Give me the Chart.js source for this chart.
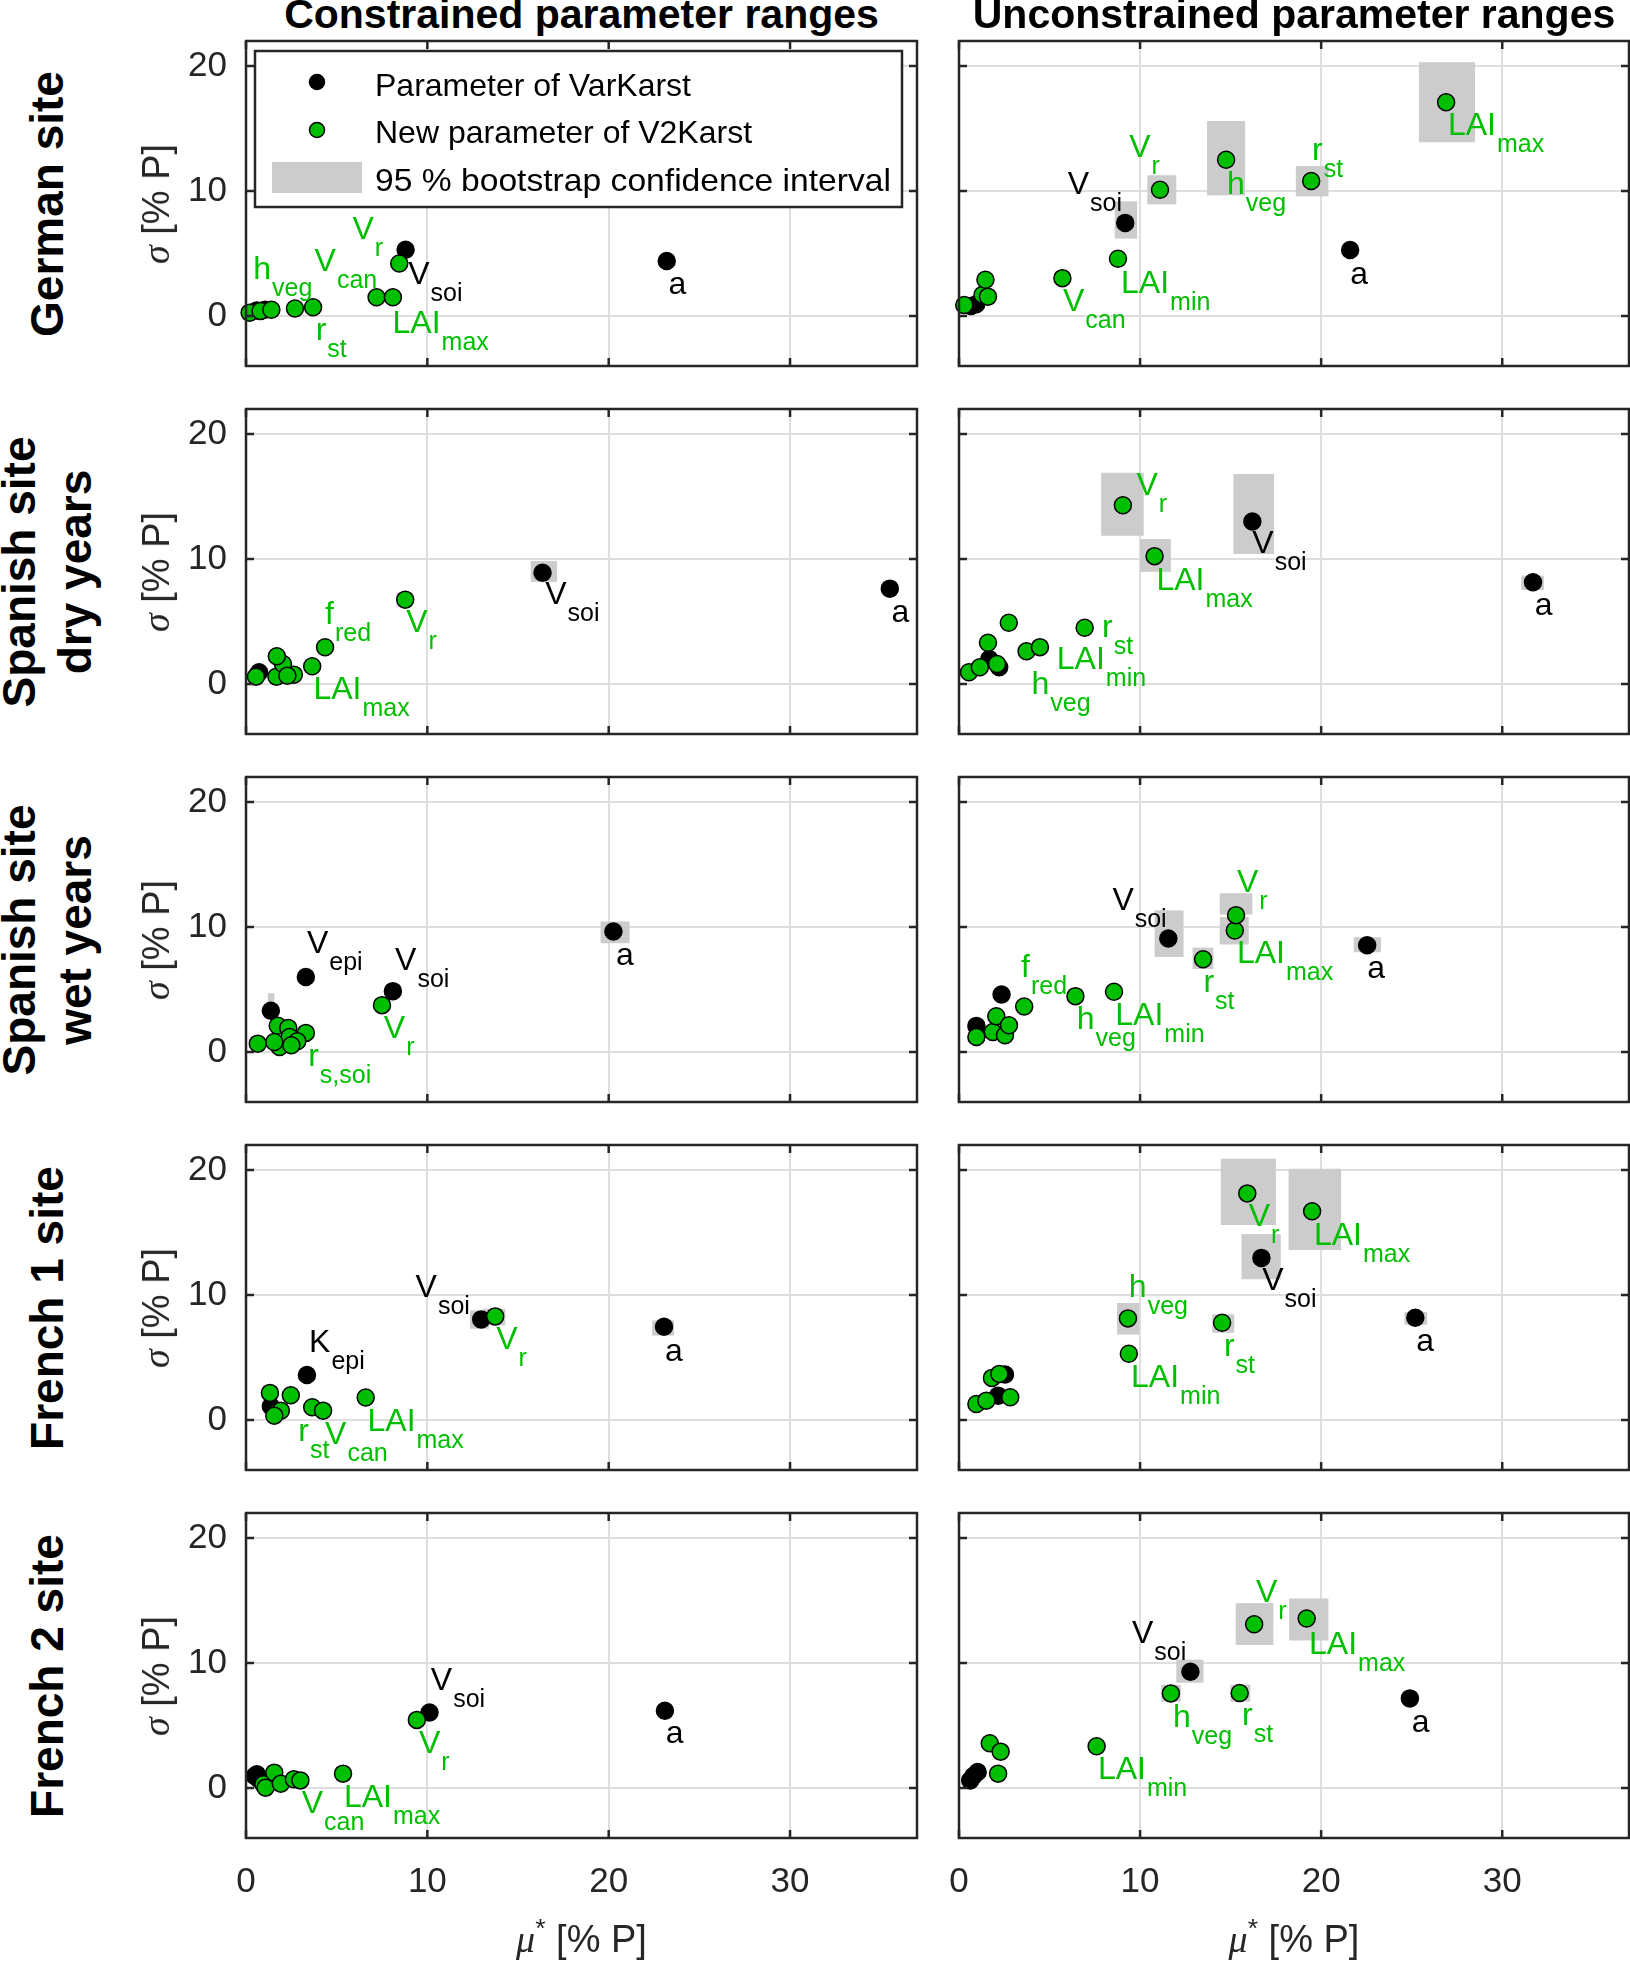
<!DOCTYPE html>
<html>
<head>
<meta charset="utf-8">
<script src="https://cdn.jsdelivr.net/npm/chart.js@4.4.1/dist/chart.umd.min.js"></script>
<style>
  body { margin:0; width:1630px; height:1963px; overflow:hidden; background:#fff; position:relative;
         font-family:"Liberation Sans", Arial, Helvetica, sans-serif; }
  canvas { position:absolute; }
  .t { position:absolute; white-space:nowrap; line-height:1; }
  .col { font-weight:bold; font-size:41px; color:#000; transform:translateX(-50%); }
  .row { font-weight:bold; font-size:46px; color:#000; text-align:center; line-height:56px;
         transform:translate(-50%,-50%) rotate(-90deg); }
  .yl { font-size:38px; color:#262626; transform:translate(-50%,-50%) rotate(-90deg); }
  .xl { font-size:38px; color:#262626; transform:translateX(-50%); }
  .gr { font-family:"Liberation Serif", "DejaVu Serif", serif; font-style:italic; }
  .sp { position:relative; top:-0.55em; font-size:0.7em; }
</style>
</head>
<body>
<script>
// axes
const xTicks = [0, 10, 20, 30];
const yTicks = [0, 10, 20];
const xRange = [0, 37];
const yRange = [-4, 22];

const colTitles = ['Constrained parameter ranges', 'Unconstrained parameter ranges'];
const rowTitles = ['German site', 'Spanish site\ndry years', 'Spanish site\nwet years', 'French 1 site', 'French 2 site'];
const legendLabels = ['Parameter of VarKarst', 'New parameter of V2Karst', '95 % bootstrap confidence interval'];

// points are [mu*, sigma]; boxes are [x1, x2, y1, y2]; labels are [text, subscript, colour, x, y]
const gerConVar = [[0.6,0.45],[1.05,0.5],[8.8,5.3],[23.2,4.4]];
const gerConNew = [[0.2,0.27],[0.8,0.4],[1.4,0.5],[2.7,0.6],[3.7,0.7],[7.2,1.5],[8.1,1.5],[8.45,4.2]];
const gerConBox = [];
const gerConTxt = [['h','veg','g',0.4,2.95],['V','can','g',3.78,3.62],['V','r','g',5.87,6.17],['V','soi','k',8.94,2.55],
                   ['LAI','max','g',8.08,-1.34],['r','st','g',3.84,-1.88],['a','','k',23.3,1.74]];

const gerUncVar = [[0.66,0.8],[0.95,0.94],[9.18,7.45],[21.6,5.28]];
const gerUncNew = [[0.29,0.88],[1.3,1.7],[1.6,1.55],[1.46,2.9],[5.71,3.03],[8.78,4.58],[11.1,10.1],[14.75,12.5],[19.45,10.8],[26.9,17.1]];
const gerUncBox = [[25.4,28.5,13.9,20.3],[13.7,15.8,9.65,15.6],[18.6,20.4,9.57,12.0],[10.4,12.0,8.93,11.26],[8.6,9.84,6.19,9.17]];
const gerUncTxt = [['LAI','max','g',27.0,14.5],['h','veg','g',14.8,9.8],['r','st','g',19.5,12.5],['V','r','g',9.4,12.7],
                   ['V','soi','k',6.0,9.8],['LAI','min','g',8.95,1.88],['V','can','g',5.74,0.4],['a','','k',21.6,2.55]];

const dryConVar = [[0.72,0.94],[2.1,1.02],[16.35,8.9],[35.5,7.63]];
const dryConNew = [[0.55,0.59],[1.68,0.59],[2.64,0.75],[2.04,1.6],[2.28,0.67],[1.7,2.22],[3.65,1.42],[4.36,2.94],[8.78,6.75]];
const dryConBox = [[15.7,17.15,8.17,9.83],[8.3,9.1,6.2,7.3]];
const dryConTxt = [['V','soi','k',16.5,6.37],['a','','k',35.6,4.95],['V','r','g',8.83,4.15],['f','red','g',4.36,4.77],
                   ['LAI','max','g',3.72,-1.2]];

const dryUncVar = [[1.67,2.0],[2.22,1.34],[16.2,13.0],[31.7,8.14]];
const dryUncNew = [[0.55,0.94],[1.15,1.34],[2.1,1.6],[1.6,3.3],[2.75,4.9],[3.73,2.62],[4.47,2.95],[6.94,4.5],[10.8,10.23],[9.05,14.3]];
const dryUncBox = [[7.85,10.2,11.86,16.9],[15.15,17.4,10.4,16.8],[10.0,11.7,8.97,11.6],[31.05,32.3,7.52,8.67]];
const dryUncTxt = [['V','r','g',9.8,15.1],['V','soi','k',16.2,10.45],['LAI','max','g',10.9,7.55],['a','','k',31.8,5.49],
                   ['r','st','g',7.9,3.8],['LAI','min','g',5.4,1.2],['h','veg','g',4.0,-0.8]];

const wetConVar = [[1.37,3.3],[3.3,6.0],[8.1,4.87],[20.26,9.64]];
const wetConNew = [[0.65,0.67],[1.75,2.1],[2.33,1.93],[3.3,1.53],[1.85,0.4],[2.4,1.2],[2.83,0.86],[1.56,0.8],[2.5,0.54],[7.5,3.75]];
const wetConBox = [[19.55,21.15,8.7,10.44],[1.2,1.56,3.0,4.7]];
const wetConTxt = [['V','epi','k',3.36,7.9],['V','soi','k',8.22,6.6],['a','','k',20.4,6.96],['V','r','g',7.6,1.12],
                   ['r','s,soi','g',3.43,-1.12]];

const wetUncVar = [[0.96,2.09],[2.35,4.6],[11.56,9.08],[22.54,8.54]];
const wetUncNew = [[0.96,1.2],[1.87,1.6],[2.54,1.34],[2.06,2.86],[2.76,2.14],[3.6,3.64],[6.43,4.47],[8.56,4.82],[13.48,7.42],[15.23,9.72],[15.3,10.95]];
const wetUncBox = [[10.8,12.4,7.6,11.33],[14.4,16.2,11.0,12.7],[14.4,16.0,8.6,10.8],[12.9,14.05,6.64,8.35],[21.8,23.3,7.98,9.18]];
const wetUncTxt = [['V','soi','k',8.47,11.38],['V','r','g',15.35,12.8],['LAI','max','g',15.35,7.1],['r','st','g',13.5,4.77],
                   ['a','','k',22.54,5.9],['f','red','g',3.43,6.0],['h','veg','g',6.5,1.87],['LAI','min','g',8.63,2.14]];

const fr1ConVar = [[1.37,1.1],[3.36,3.6],[12.97,8.05],[23.05,7.46]];
const fr1ConNew = [[1.32,2.17],[1.68,0.6],[1.92,0.75],[1.56,0.35],[2.47,1.98],[3.65,1.02],[4.25,0.75],[6.6,1.8],[13.74,8.29]];
const fr1ConBox = [[22.4,23.6,6.76,7.97],[12.35,13.4,7.3,8.77],[13.07,14.3,7.57,8.9]];
const fr1ConTxt = [['V','soi','k',9.35,9.84],['V','r','g',13.8,5.7],['a','','k',23.1,4.76],['K','epi','k',3.48,5.43],
                   ['LAI','max','g',6.7,-0.86],['r','st','g',2.88,-1.66],['V','can','g',4.36,-1.93]];

const fr1UncVar = [[2.54,3.64],[2.16,1.95],[16.7,12.97],[25.2,8.18]];
const fr1UncNew = [[1.82,3.37],[2.23,3.69],[2.83,1.82],[0.96,1.28],[1.51,1.55],[9.33,8.13],[9.38,5.3],[14.53,7.78],[15.92,18.13],[19.5,16.7]];
const fr1UncBox = [[14.46,17.5,15.6,20.9],[18.2,21.1,13.6,20.1],[15.6,17.77,11.26,14.87],[8.73,9.95,6.84,9.36],[13.98,15.2,6.98,8.45],[24.6,25.85,7.62,8.64]];
const fr1UncTxt = [['V','r','g',16.0,15.5],['LAI','max','g',19.6,14.0],['V','soi','k',16.74,10.43],['h','veg','g',9.38,9.84],
                   ['LAI','min','g',9.5,2.62],['r','st','g',14.63,5.1],['a','','k',25.25,5.56]];

const fr2ConVar = [[0.48,0.96],[0.6,1.1],[0.72,0.7],[10.12,6.04],[23.1,6.18]];
const fr2ConNew = [[0.96,0.3],[1.08,0.03],[1.56,1.23],[1.92,0.35],[2.64,0.7],[3.0,0.61],[5.35,1.15],[9.42,5.45]];
const fr2ConBox = [];
const fr2ConTxt = [['V','soi','k',10.19,7.86],['a','','k',23.14,3.58],['V','r','g',9.54,2.78],['LAI','max','g',5.4,-1.5],
                   ['V','can','g',3.07,-2.03]];

const fr2UncVar = [[0.62,0.61],[0.79,0.96],[1.03,1.28],[12.78,9.3],[24.9,7.17]];
const fr2UncNew = [[2.16,1.15],[1.7,3.58],[2.3,2.91],[7.6,3.34],[11.7,7.57],[15.5,7.6],[16.3,13.1],[19.2,13.56]];
const fr2UncBox = [[15.28,17.36,11.44,14.79],[18.23,20.4,11.8,15.16],[12.0,13.5,8.42,10.27],[11.17,12.25,6.9,8.26],[14.99,16.09,6.9,8.26]];
const fr2UncTxt = [['V','r','g',16.4,14.9],['LAI','max','g',19.33,10.72],['V','soi','k',9.55,11.6],['h','veg','g',11.82,4.92],
                   ['r','st','g',15.63,5.03],['a','','k',25.0,4.5],['LAI','min','g',7.67,0.75]];

const panels = [
  [gerConVar, gerConNew, gerConBox, gerConTxt], [gerUncVar, gerUncNew, gerUncBox, gerUncTxt],
  [dryConVar, dryConNew, dryConBox, dryConTxt], [dryUncVar, dryUncNew, dryUncBox, dryUncTxt],
  [wetConVar, wetConNew, wetConBox, wetConTxt], [wetUncVar, wetUncNew, wetUncBox, wetUncTxt],
  [fr1ConVar, fr1ConNew, fr1ConBox, fr1ConTxt], [fr1UncVar, fr1UncNew, fr1UncBox, fr1UncTxt],
  [fr2ConVar, fr2ConNew, fr2ConBox, fr2ConTxt], [fr2UncVar, fr2UncNew, fr2UncBox, fr2UncTxt]
];

const FONT = '"Liberation Sans", Arial, Helvetica, sans-serif';
const GREEN = 'rgb(0,191,0)';
const AX = '#262626';
const BOXGREY = '#cccccc';
const colour = { g: GREEN, k: '#000' };

// page layout (px)
const colX = [246, 959], colW = [671, 670];
const rowY = [41, 409, 777, 1145, 1513], rowH = 325;
const yAxisW = 120, padTop = 4, padRight = 2, xAxisH = 126;

Chart.defaults.font.family = FONT;

function deco(boxes, labels, withLegend) {
  return {
    id: 'deco',
    beforeDatasetsDraw(chart) {
      const { ctx, scales: { x, y } } = chart;
      ctx.save();
      ctx.fillStyle = BOXGREY;
      boxes.forEach(([x1, x2, y1, y2]) => {
        const l = x.getPixelForValue(x1), r = x.getPixelForValue(x2);
        const t = y.getPixelForValue(y2), b = y.getPixelForValue(y1);
        ctx.fillRect(l, t, r - l, b - t);
      });
      ctx.restore();
    },
    afterDatasetsDraw(chart) {
      const { ctx, scales: { x, y } } = chart;
      ctx.save();
      ctx.textAlign = 'left';
      ctx.textBaseline = 'alphabetic';
      labels.forEach(([main, sub, c, lx, ly]) => {
        const px = x.getPixelForValue(lx), py = y.getPixelForValue(ly);
        ctx.fillStyle = colour[c];
        ctx.font = '32px ' + FONT;
        ctx.fillText(main, px, py);
        if (sub) {
          const w = ctx.measureText(main).width;
          ctx.font = '25px ' + FONT;
          ctx.fillText(sub, px + w + 1, py + 17);
        }
      });
      ctx.restore();
    },
    afterDraw(chart) {
      const { ctx, chartArea: a, scales: { x, y } } = chart;
      ctx.save();
      ctx.strokeStyle = AX;
      ctx.lineWidth = 2.5;
      // inward ticks on all four sides
      ctx.beginPath();
      xTicks.forEach(v => {
        const px = x.getPixelForValue(v);
        ctx.moveTo(px, a.bottom); ctx.lineTo(px, a.bottom - 8);
        ctx.moveTo(px, a.top); ctx.lineTo(px, a.top + 8);
      });
      yTicks.forEach(v => {
        const py = y.getPixelForValue(v);
        ctx.moveTo(a.left, py); ctx.lineTo(a.left + 8, py);
        ctx.moveTo(a.right, py); ctx.lineTo(a.right - 8, py);
      });
      ctx.stroke();
      ctx.strokeRect(a.left, a.top, a.right - a.left, a.bottom - a.top);

      if (withLegend) {
        const L = a.left + 9, T = a.top + 10, W = 647, H = 156;
        ctx.fillStyle = '#fff';
        ctx.fillRect(L, T, W, H);
        ctx.strokeRect(L, T, W, H);
        ctx.lineWidth = 1.5;
        ctx.strokeStyle = '#000';
        ctx.fillStyle = '#000';
        ctx.beginPath(); ctx.arc(L + 62, T + 31, 7.5, 0, Math.PI * 2); ctx.fill(); ctx.stroke();
        ctx.fillStyle = GREEN;
        ctx.beginPath(); ctx.arc(L + 62, T + 79, 7.5, 0, Math.PI * 2); ctx.fill(); ctx.stroke();
        ctx.fillStyle = BOXGREY;
        ctx.fillRect(L + 17, T + 111, 90, 31);
        ctx.fillStyle = '#000';
        ctx.font = '32px ' + FONT;
        ctx.textAlign = 'left';
        ctx.textBaseline = 'alphabetic';
        ctx.fillText(legendLabels[0], L + 120, T + 45);
        ctx.fillText(legendLabels[1], L + 120, T + 92);
        // the third entry is set a little wider in the original
        const w3 = ctx.measureText(legendLabels[2]).width;
        ctx.translate(L + 120, T + 140);
        ctx.scale(516 / w3, 1);
        ctx.fillText(legendLabels[2], 0, 0);
      }
      ctx.restore();
    }
  };
}

panels.forEach(([vk, nw, bx, tx], i) => {
  const r = Math.floor(i / 2), c = i % 2;
  const isBottom = r === rowY.length - 1, isLeft = c === 0;
  const W = yAxisW + colW[c] + padRight;
  const H = padTop + rowH + (isBottom ? xAxisH : 2);
  const cv = document.createElement('canvas');
  cv.width = W; cv.height = H;
  cv.style.width = W + 'px'; cv.style.height = H + 'px';
  cv.style.left = (colX[c] - yAxisW) + 'px';
  cv.style.top = (rowY[r] - padTop) + 'px';
  document.body.appendChild(cv);

  const pt = (p) => ({ x: p[0], y: p[1] });
  new Chart(cv, {
    type: 'scatter',
    data: {
      datasets: [
        { label: legendLabels[1], data: nw.map(pt), backgroundColor: GREEN, borderColor: '#000',
          borderWidth: 1.5, pointRadius: 8.5, clip: false },
        { label: legendLabels[0], data: vk.map(pt), backgroundColor: '#000', borderColor: '#000',
          borderWidth: 1.5, pointRadius: 8.5, clip: false }
      ]
    },
    options: {
      responsive: false,
      animation: false,
      events: [],
      devicePixelRatio: 1,
      layout: { autoPadding: false, padding: { top: padTop, right: padRight, left: 0, bottom: isBottom ? 0 : 2 } },
      plugins: { legend: { display: false }, tooltip: { enabled: false } },
      scales: {
        x: {
          type: 'linear', position: 'bottom', min: xRange[0], max: xRange[1],
          afterBuildTicks: s => { s.ticks = xTicks.map(v => ({ value: v })); },
          afterFit: s => {
            s.height = isBottom ? xAxisH : 0;
            s.paddingLeft = 0; s.paddingRight = 0; s.paddingTop = 0; s.paddingBottom = 0;
          },
          grid: { color: '#dedede', lineWidth: 2, drawTicks: false },
          border: { display: false },
          ticks: { display: isBottom, padding: 23, color: AX, maxRotation: 0, font: { size: 35 } }
        },
        y: {
          type: 'linear', position: 'left', min: yRange[0], max: yRange[1],
          afterBuildTicks: s => { s.ticks = yTicks.map(v => ({ value: v })); },
          afterFit: s => {
            s.width = yAxisW;
            s.paddingLeft = 0; s.paddingRight = 0; s.paddingTop = 0; s.paddingBottom = 0;
          },
          grid: { color: '#dedede', lineWidth: 2, drawTicks: false },
          border: { display: false },
          ticks: { display: isLeft, padding: 19, color: AX, font: { size: 35 } }
        }
      }
    },
    plugins: [deco(bx, tx, i === 0)]
  });
});

// titles as html text
function addText(cls, html, left, top) {
  const d = document.createElement('div');
  d.className = 't ' + cls;
  d.innerHTML = html;
  d.style.left = left + 'px';
  d.style.top = top + 'px';
  document.body.appendChild(d);
}
colTitles.forEach((t, c) => addText('col', t, colX[c] + colW[c] / 2, -6));
rowTitles.forEach((t, r) => {
  const cy = rowY[r] + rowH / 2;
  addText('row', t.replace('\n', '<br>'), 47, cy);
  addText('yl', '<span class="gr">σ</span> [% P]', 156, cy);
});
colX.forEach((x, c) => addText('xl', '<span class="gr">μ</span><span class="sp">*</span> [% P]', x + colW[c] / 2, 1920));
</script>
</body>
</html>
